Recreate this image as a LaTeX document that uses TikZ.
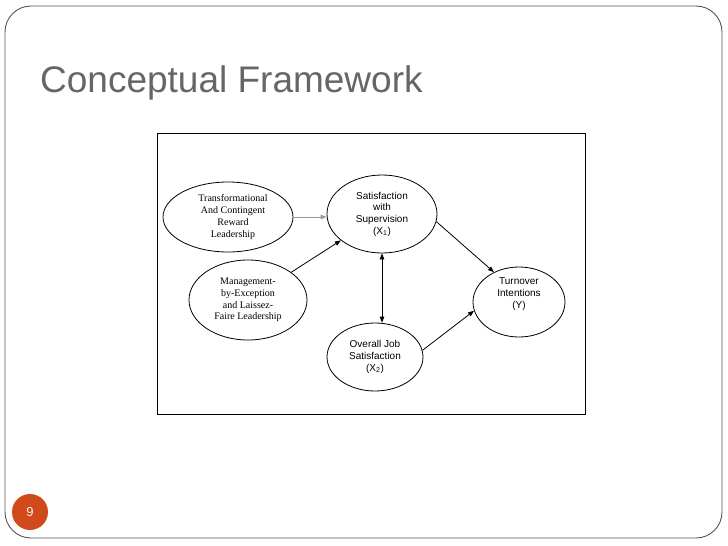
\documentclass[tikz,border=0pt]{standalone}
\usepackage{fontspec}
\setmainfont{Liberation Sans}
\newfontfamily\serifa{Liberation Serif}
\newfontfamily\sansa{Liberation Sans}
\usetikzlibrary{shapes.geometric,arrows.meta,calc}
\definecolor{titlegray}{HTML}{666666}
\definecolor{framegray}{HTML}{555555}
\definecolor{numorange}{HTML}{D04A1C}
\tikzset{
  ell/.style={ellipse,draw=black,line width=0.8pt,inner sep=0pt,align=center},
  serifell/.style={ell,font=\serifa\fontsize{10}{11.7}\selectfont},
  sansell/.style={ell,font=\sansa\fontsize{10}{11.7}\selectfont},
  conn/.style={line width=0.8pt,-{Triangle[length=6pt,width=4.5pt]}},
  dconn/.style={line width=0.8pt,{Triangle[length=6pt,width=4.5pt]}-{Triangle[length=6pt,width=4.5pt]}},
}
\begin{document}
\begin{tikzpicture}[x=1pt,y=-1pt]
\useasboundingbox (0,0) rectangle (728,546);
\fill[white] (0,0) rectangle (728,546);
% slide frame
\draw[framegray,line width=0.9pt,rounded corners=26pt] (5,6) rectangle (722,538);
% title
\node[anchor=base west,inner sep=0pt,text=titlegray,font=\fontsize{37}{42}\selectfont] (title) at (40,92) {Conceptual Framework};
% diagram box
\draw[black,line width=1pt] (157,133) rectangle (585,414);
% nodes
\node[serifell,minimum width=130pt,minimum height=70pt] (t) at (228,217) {\hspace*{10pt}Transformational\\\hspace*{10pt}And Contingent\\\hspace*{10pt}Reward\\\hspace*{10pt}Leadership};
\node[serifell,minimum width=118pt,minimum height=80pt] (m) at (248,300) {Management-\\by-Exception\\and Laissez-\\Faire Leadership};
\node[sansell,minimum width=110pt,minimum height=78pt] (s) at (382,214) {Satisfaction\\with\\Supervision\\(X\textsubscript{1})};
\node[sansell,minimum width=92pt,minimum height=70pt] (y) at (519,302) {Turnover\\Intentions\\(Y)\\[6pt]};
\node[sansell,minimum width=96pt,minimum height=68pt] (o) at (375,357) {Overall Job\\Satisfaction\\(X\textsubscript{2})};
% connectors
\draw[conn,draw=gray!80] (t.east) -- (t.east -| s.west);
\draw[conn] (m) -- (s);
\draw[dconn] (s.south) -- (s.south |- o.north);
\draw[conn] (s.-8) -- (y.130);
\draw[conn] (o.8) -- (y.191);
% page number
\node[circle,fill=numorange,minimum size=36pt,inner sep=0pt,text=white!90!orange,font=\fontsize{13}{15}\selectfont] (num) at (30,512) {9};
\end{tikzpicture}
\end{document}
